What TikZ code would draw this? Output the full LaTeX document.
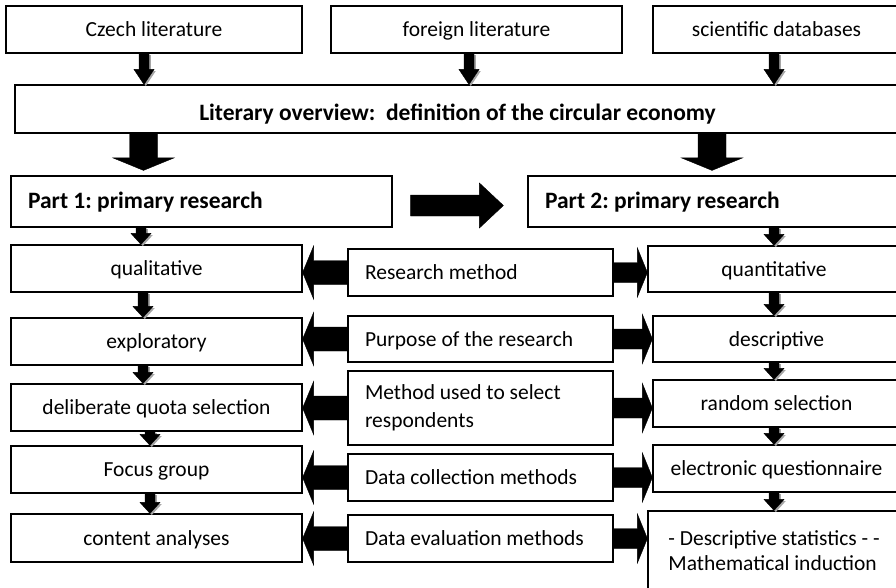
\documentclass[tikz,border=0pt]{standalone}
\usepackage{fontspec}
\setmainfont{Carlito}
\frenchspacing
\usetikzlibrary{calc}

\tikzset{
  box/.style={draw=black, line width=1.2pt, fill=white, inner sep=0pt,
    align=center, text height=18pt, text depth=3.6pt,
    font=\fontsize{21.5pt}{26pt}\selectfont},
  leftbox/.style={box, align=flush left, inner xsep=17pt},
  boldbox/.style={leftbox, font=\fontsize{23.5pt}{28pt}\selectfont\bfseries},
  multiline/.style={text height={}, text depth={}},
  % gray offset copy behind the small arrows
  shadowed/.style={preaction={fill=black!35, transform canvas={shift={(1.8pt,-1.6pt)}}}},
  % block arrow pointing down: shaft half width, head half width, head length
  downblk/.style n args={3}{fill=black, to path={
    let \p1=(\tikztostart), \p2=(\tikztotarget) in
    (\x1-#1,\y1) -- (\x1+#1,\y1) -- (\x1+#1,\y2+#3) -- (\x1+#2,\y2+#3)
    -- (\x1,\y2) -- (\x1-#2,\y2+#3) -- (\x1-#1,\y2+#3) -- cycle}},
  rightblk/.style n args={3}{fill=black, to path={
    let \p1=(\tikztostart), \p2=(\tikztotarget) in
    (\x1,\y1+#1) -- (\x2-#3,\y1+#1) -- (\x2-#3,\y1+#2) -- (\x2,\y1)
    -- (\x2-#3,\y1-#2) -- (\x2-#3,\y1-#1) -- (\x1,\y1-#1) -- cycle}},
  leftblk/.style n args={3}{fill=black, to path={
    let \p1=(\tikztostart), \p2=(\tikztotarget) in
    (\x1,\y1+#1) -- (\x2+#3,\y1+#1) -- (\x2+#3,\y1+#2) -- (\x2,\y1)
    -- (\x2+#3,\y1-#2) -- (\x2+#3,\y1-#1) -- (\x1,\y1-#1) -- cycle}},
  smalldown/.style={shadowed, downblk={5pt}{10pt}{11pt}},
  topdown/.style={shadowed, downblk={5pt}{10pt}{15pt}},
  bigdown/.style={downblk={14pt}{30.5pt}{12.5pt}},
  toleft/.style={leftblk={12pt}{26.5pt}{11pt}},
  toright/.style={rightblk={10pt}{24.5pt}{10pt}},
}

\begin{document}
\begin{tikzpicture}[x=1pt, y=-1pt]
\useasboundingbox (0,0) rectangle (896,587);
\clip (0,0) rectangle (896,587);
\fill[white] (0,0) rectangle (896,587);

% sources
\node[box, minimum width=296pt, minimum height=47pt] (czech) at (154,29.5) {Czech literature};
\node[box, minimum width=291pt, minimum height=47pt] (foreign) at (476.5,29.5) {foreign literature};
\node[box, minimum width=247pt, minimum height=47pt] (sci) at (776.5,29.5) {scientific databases};

% overview
\node[box, minimum width=885pt, minimum height=48pt, text height=23pt, text depth=0pt,
  font=\fontsize{23.5pt}{28pt}\selectfont\bfseries]
  (lit) at (457.5,109) {Literary overview:\ \ definition of the circular economy};

% the two research parts
\node[boldbox, text width=347pt, minimum height=51pt] (p1) at (201.5,201.5) {Part 1: primary research};
\node[boldbox, text width=338pt, minimum height=51pt] (p2) at (714,201.5) {Part 2: primary research};

% left column
\node[box, minimum width=291pt, minimum height=47pt] (qual) at (156.5,268.5) {qualitative};
\node[box, minimum width=291pt, minimum height=47pt] (expl) at (156.5,341.5) {exploratory};
\node[box, minimum width=291pt, minimum height=47pt] (delib) at (156.5,407.5) {deliberate quota selection};
\node[box, minimum width=291pt, minimum height=47pt] (focus) at (156.5,469.5) {Focus group};
\node[box, minimum width=291pt, minimum height=48pt] (content) at (156.5,538) {content analyses};

% middle column
\node[leftbox, text width=231pt, minimum height=47pt] (rm) at (480.5,272.5) {Research method};
\node[leftbox, text width=231pt, minimum height=46pt] (purp) at (480.5,339) {Purpose of the research};
\node[leftbox, multiline, text width=231pt, minimum height=74pt, font=\fontsize{21.5pt}{28pt}\selectfont]
  (msel) at (480.5,408) {Method used to select\\respondents};
\node[leftbox, text width=231pt, minimum height=47pt] (dcoll) at (480.5,477.5) {Data collection methods};
\node[leftbox, text width=231pt, minimum height=47pt] (deval) at (480.5,538.5) {Data evaluation methods};

% right column
\node[box, minimum width=252pt, minimum height=46pt] (quant) at (774,269) {quantitative};
\node[box, minimum width=247pt, minimum height=46pt] (desc) at (776.5,339) {descriptive};
\node[box, minimum width=247pt, minimum height=47pt] (rand) at (776.5,403.5) {random selection};
\node[box, minimum width=247pt, minimum height=47pt] (equest) at (776.5,468.5) {electronic questionnaire};
\node[box, multiline, align=left, minimum width=252pt, minimum height=79pt,
  font=\fontsize{21.5pt}{25pt}\selectfont]
  (dstat) at (774,550.5) {- Descriptive statistics - -\\Mathematical induction};

% sources into the overview
\draw[topdown] ($(czech.south)+(-10,0)$) to (lit.north);
\draw[topdown] ($(foreign.south)+(-7.5,0)$) to (lit.north);
\draw[topdown] ($(sci.south)+(-2.5,0)$) to (lit.north);

% overview into both parts
\draw[bigdown] ($(lit.south -| p1.north)+(-58,0)$) to ($(p1.north)+(0,-5)$);
\draw[bigdown] ($(lit.south -| p2.north)+(-2,0)$) to ($(p2.north)+(0,-5)$);

% part 1 leads to part 2
\draw[rightblk={10.5pt}{22.5pt}{24pt}] ($(p1.east)+(18,4)$) to ($(p2.west)+(-24,4)$);

% left column chain
\draw[smalldown] ($(p1.south -| qual.north)+(-15.5,0)$) to (qual.north);
\draw[smalldown] ($(qual.south)+(-13.5,0)$) to (expl.north);
\draw[smalldown] ($(expl.south)+(-13.5,0)$) to (delib.north);
\draw[smalldown] ($(delib.south)+(-6.5,0)$) to (focus.north);
\draw[smalldown] ($(focus.south)+(-6.5,0)$) to (content.north);

% right column chain
\draw[smalldown] (p2.south -| quant.north) to (quant.north);
\draw[smalldown] (quant.south) to (desc.north);
\draw[smalldown] ($(desc.south)+(-2.5,0)$) to (rand.north);
\draw[smalldown] ($(rand.south)+(-2.5,0)$) to (equest.north);
\draw[smalldown] ($(equest.south)+(-2.5,0)$) to (dstat.north);

% middle criteria pointing to both columns
\draw[toleft] (rm.west) to (qual.east);
\draw[toleft] (purp.west) to (expl.east);
\draw[toleft] (msel.west) to (delib.east);
\draw[toleft] (dcoll.west) to (focus.east);
\draw[toleft] (deval.west) to (content.east);

\draw[toright] (rm.east) to (quant.west);
\draw[toright] (purp.east) to (desc.west);
\draw[toright] (msel.east) to (rand.west);
\draw[toright] (dcoll.east) to (equest.west);
\draw[toright] (deval.east) to (dstat.west);
\end{tikzpicture}
\end{document}
